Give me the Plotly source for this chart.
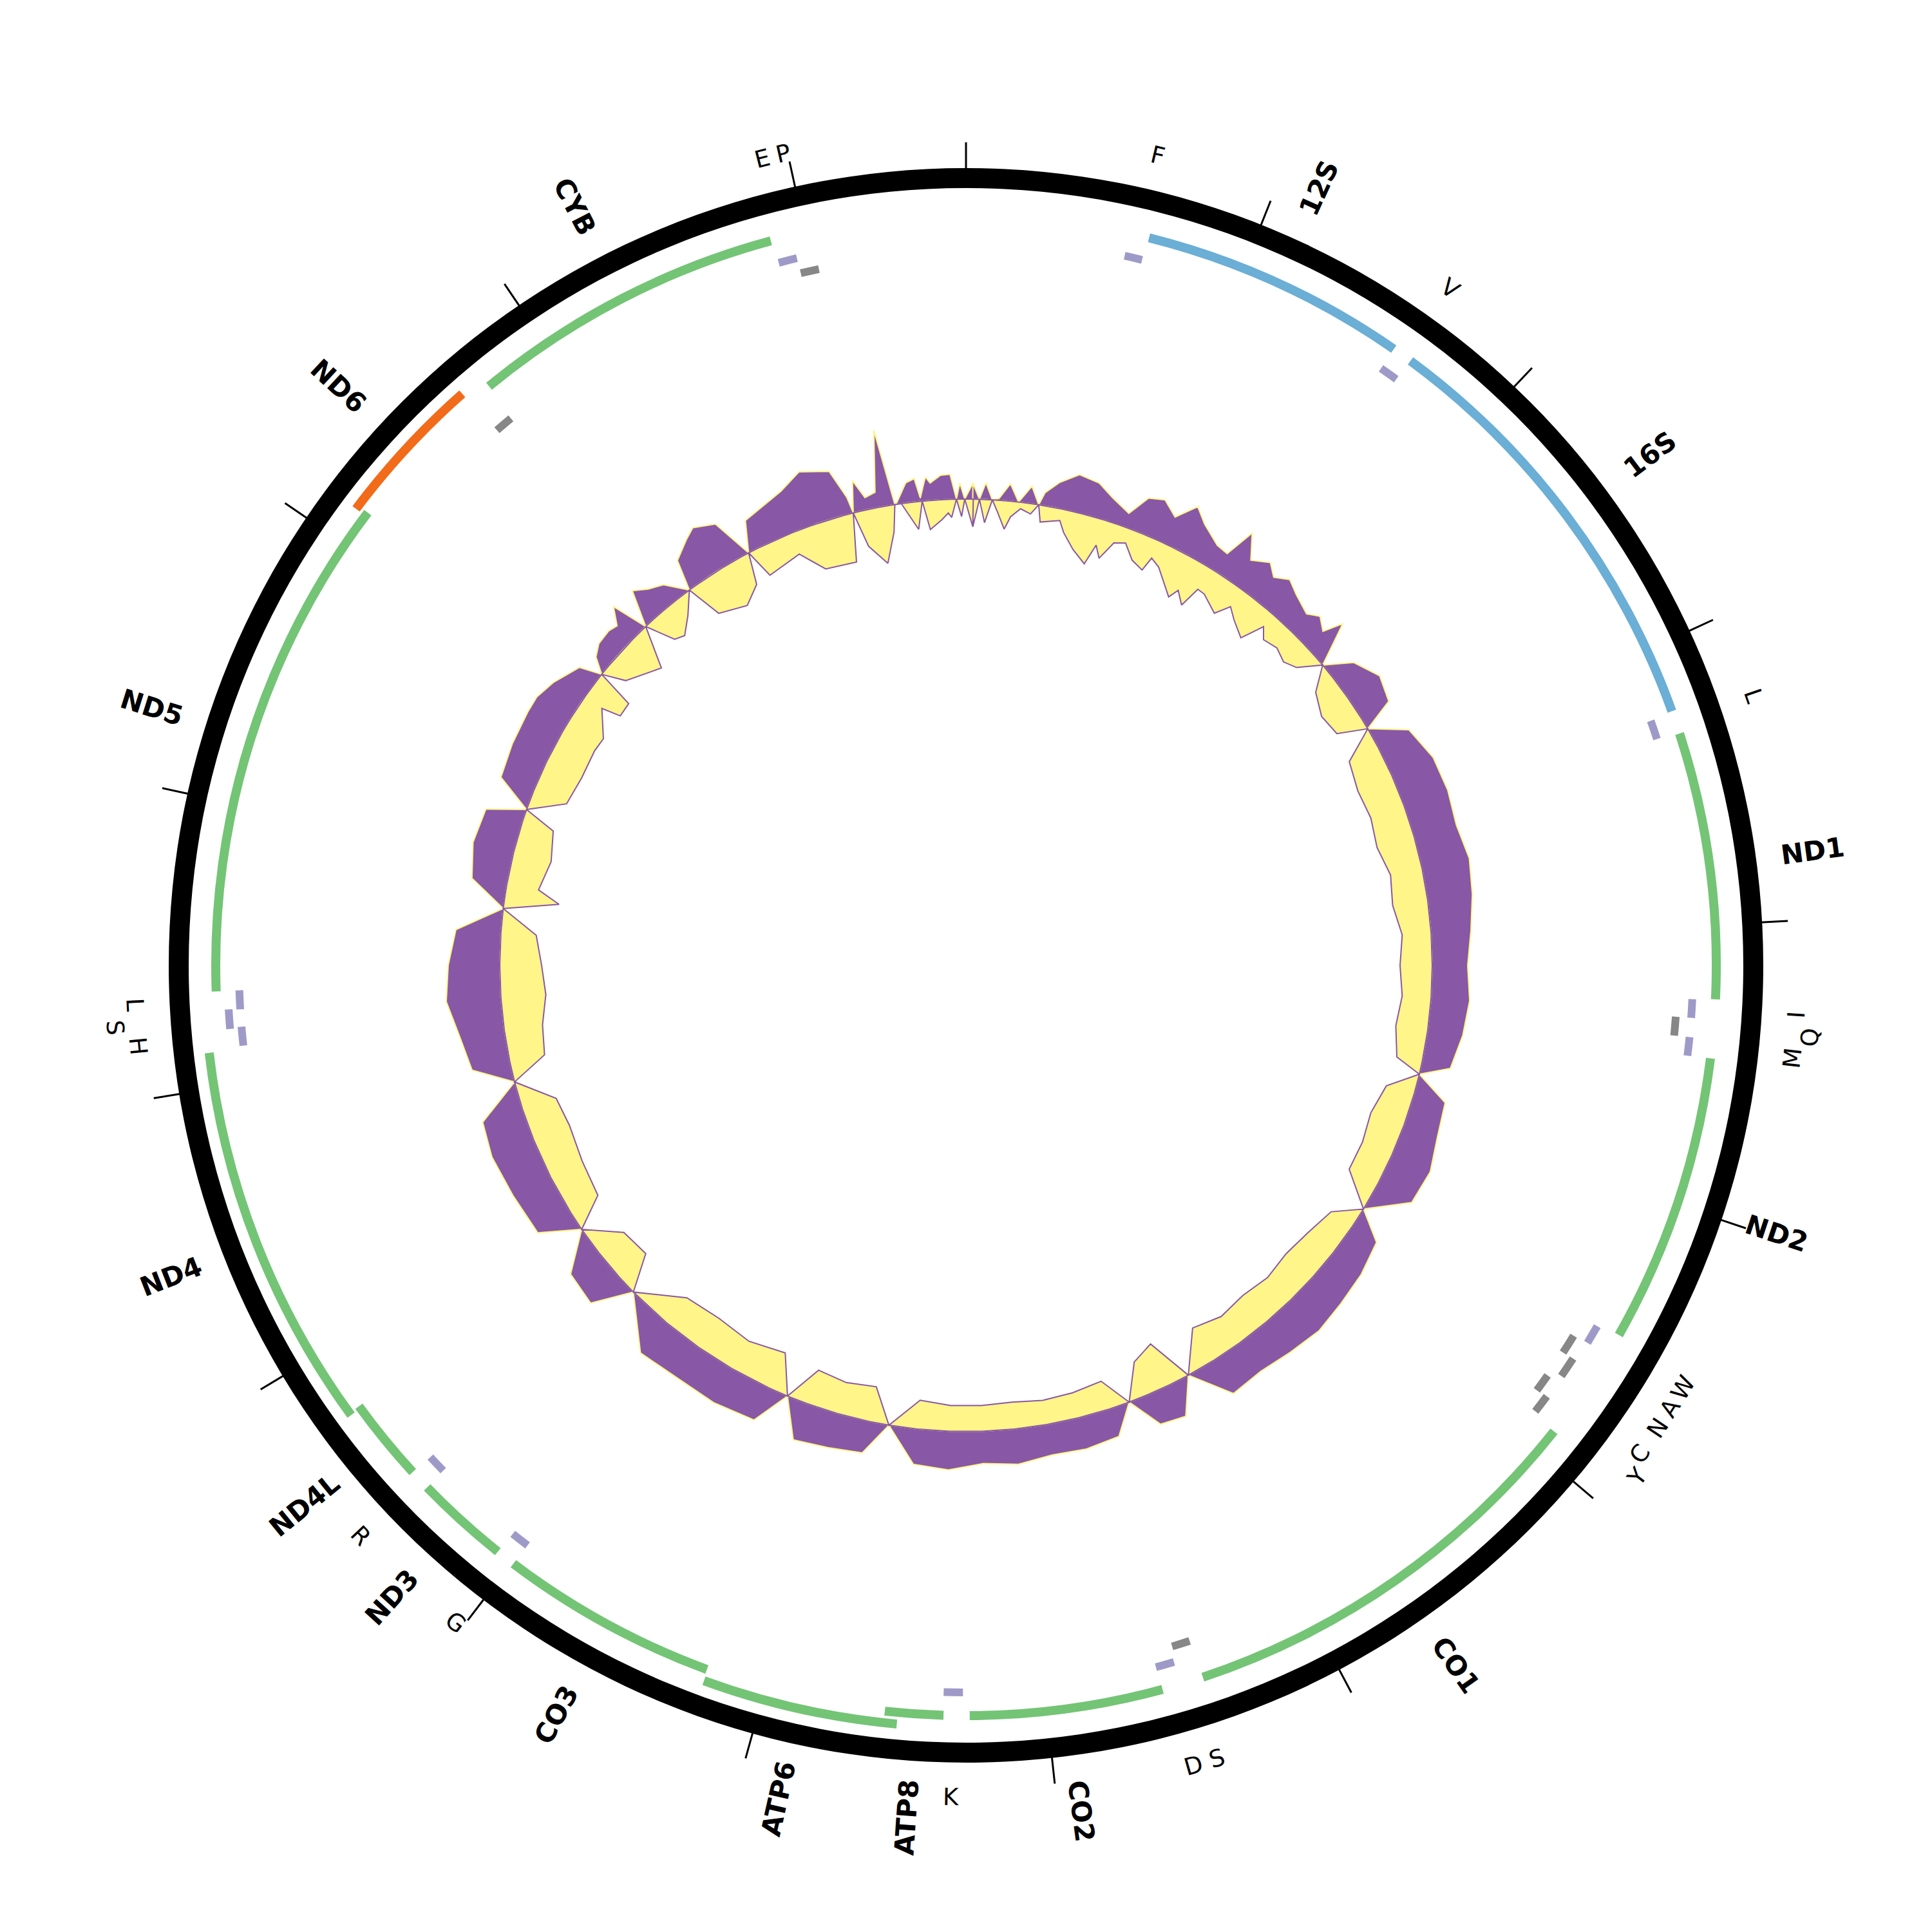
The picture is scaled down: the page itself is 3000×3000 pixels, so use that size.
import math
import plotly.graph_objects as go

# ---------------- data ----------------
GENOME_LEN = 16570
tick_positions = list(range(0, 16001, 1000))

gene_names = ["12S", "16S", "ND1", "ND2", "CO1", "CO2", "ATP8", "ATP6", "CO3",
              "ND3", "ND4L", "ND4", "ND5", "ND6", "CYB"]
gene_start = [650, 1672, 3314, 4470, 5910, 7586, 8364, 8525, 9215,
              10062, 10472, 10762, 12336, 14122, 14753]
gene_end = [1600, 3231, 4262, 5501, 7438, 8272, 8571, 9211, 9993,
            10398, 10771, 12124, 14136, 14665, 15876]
gene_kind = ["rRNA", "rRNA", "CDS", "CDS", "CDS", "CDS", "CDS", "CDS", "CDS",
             "CDS", "CDS", "CDS", "CDS", "CDS-", "CDS"]

trna_names = ["F", "V", "L", "I", "Q", "M", "W", "A", "N", "C", "Y", "S", "D",
              "K", "G", "R", "H", "S", "L", "", "E", "P"]
trna_start = [580, 1602, 3238, 4265, 4333, 4403, 5512, 5586, 5658, 5762, 5826,
              7442, 7520, 8296, 9992, 10401, 12136, 12200, 12268, 14672, 15883, 15952]
trna_end = [645, 1670, 3308, 4333, 4403, 4471, 5582, 5660, 5735, 5830, 5895,
            7510, 7588, 8366, 10060, 10469, 12205, 12270, 12337, 14740, 15951, 16021]
trna_strand = ["+", "+", "+", "+", "-", "+", "+", "-", "-", "-", "-",
               "-", "+", "+", "+", "+", "+", "+", "+", "-", "+", "-"]

# sliding-window composition track: outer (purple) heights and inner (yellow) depths
outer_pos = [38, 76, 109, 149, 187, 243, 298, 361, 413, 437, 506, 600, 711, 801,
             912, 983, 1066, 1151, 1234, 1307, 1422, 1491, 1542, 1616, 1706, 1768,
             1841, 1919, 2030, 2090, 2159, 2200, 2297,
             2394, 2532, 2670, 2739, 2854, 3038, 3222, 3406, 3590, 3774, 3959, 4143,
             4327, 4511, 4695, 4764, 4879, 5063, 5247, 5432, 5593, 5708, 5892, 6076,
             6260, 6444, 6628, 6812, 6974, 7089, 7227, 7342, 7457, 7641, 7825, 8009,
             8193, 8377, 8562, 8723, 8838, 9022, 9206, 9321, 9436, 9666, 9896, 10127,
             10380, 10495, 10679, 10840, 10955, 11185, 11415, 11600, 11761, 11876,
             12060, 12244, 12428, 12612, 12750, 12888, 13073, 13257, 13326, 13441,
             13625, 13809,
             13901, 14011, 14159, 14205, 14260, 14325, 14412, 14463, 14522, 14573,
             14651, 14720, 14799, 14895, 14937, 15038, 15098, 15208, 15291, 15356,
             15586, 15710, 15857, 15912, 15926, 15963, 16009, 16069, 16120, 16166,
             16173, 16242, 16290, 16313, 16351, 16374, 16433, 16484, 16516, 16536,
             16563]
outer_val = [25, 0, 26, 0, 3, 27, 0, 27, 0, 20, 40, 58, 53, 37,
             22, 55, 62, 44, 74, 55, 36, 33, 81, 45, 60, 45,
             58, 47, 36, 48, 35, 66, 0,
             40, 60, 50, 0, 55, 70, 72, 68, 75, 70, 62, 55,
             60, 55, 45, 0, 50, 55, 65, 60, 0, 45, 55, 60,
             65, 60, 55, 60, 0, 55, 50, 0, 45, 50, 48, 55,
             50, 60, 55, 0, 50, 55, 60, 0, 55, 60, 58, 62,
             0, 60, 55, 0, 60, 65, 70, 65, 0, 60,
             70, 85, 80, 70, 0, 55, 65, 60, 0, 55,
             60, 62,
             62, 53, 34, 0, 24, 34, 36, 32, 57, 0,
             55, 41, 31, 0, 48, 67, 77, 64, 0, 47,
             66, 85, 72, 26, 0, 49, 19, 24, 119, 0,
             0, 31, 36, 5, 37, 27, 38, 39, 0, 25,
             0]

inner_pos = [41, 76, 110, 149, 184, 230, 261, 314, 374, 413, 437, 548, 585, 663,
             755, 792, 833, 888, 953, 1026, 1105, 1128, 1188, 1326, 1358, 1422, 1457,
             1505, 1620, 1676, 1740, 1841, 1901, 1952, 2044, 2131, 2209, 2297,
             2394, 2532, 2670, 2739, 2854, 3038, 3222, 3406, 3590, 3774, 3959, 4143,
             4327, 4511, 4695, 4764, 4879, 5063, 5247, 5432, 5593, 5708, 5892, 6076,
             6260, 6444, 6628, 6812, 6974, 7089, 7227, 7342, 7457, 7641, 7825, 8009,
             8193, 8377, 8562, 8723, 8838, 9022, 9206, 9321, 9436, 9666, 9896, 10127,
             10380, 10495, 10679, 10840, 10955, 11185, 11415, 11600, 11761, 11876,
             12060, 12244, 12428, 12612, 12750, 12820, 12888, 13073, 13257, 13326,
             13441, 13625, 13809,
             13901, 14048, 14076, 14168, 14205, 14265, 14467, 14573, 14647, 14707,
             14799, 14895, 14955, 15130, 15245, 15291, 15342, 15554, 15673, 15871,
             15926, 15968, 16064, 16136, 16166, 16203, 16285, 16322, 16355, 16428,
             16467, 16486, 16516, 16544, 16563]
inner_val = [43, 0, 36, 0, 19, 44, 24, 10, 16, 0, 26, 18, 35, 57,
             74, 41, 59, 29, 23, 44, 52, 29, 37, 71, 55, 72, 38,
             39, 55, 32, 45, 60, 24, 39, 34, 42, 33, 0,
             35, 50, 45, 0, 50, 58, 55, 60, 50, 55, 45, 50,
             45, 50, 40, 0, 45, 55, 50, 50, 0, 40, 50, 55,
             50, 55, 50, 60, 0, 70, 55, 0, 45, 40, 38, 42,
             40, 40, 45, 0, 55, 50, 55, 0, 60, 50, 55, 50,
             0, 55, 50, 0, 50, 55, 60, 55, 0, 55,
             60, 70, 65, 55, 0, 85, 50, 60, 50, 0,
             55, 60, 58,
             60, 32, 62, 61, 0, 35, 63, 0, 45, 51,
             30, 0, 56, 70, 49, 0, 46, 35, 71, 75,
             0, 56, 88, 42, 0, 0, 43, 0, 45, 31,
             21, 28, 0, 27, 0]

# ---------------- style ----------------
FIG = 2984                           # page has an 8px body margin
CX, CY_BOTTOM = 1492, 1493           # polar centre in figure pixels (y from bottom)
RMAX = 1480
RING_IN, RING_OUT = 1207, 1238
TICK_OUT = 1278
GENE_R0, GENE_W = 1165, 14
TRNA_PLUS_R0, TRNA_MINUS_R0, TRNA_W = 1129, 1105, 12
LEVEL_STEP = 18
GC_BASE = 724
GENE_LABEL_R = 1326
TRNA_LABEL_R = 1292
trna_label_shift = [0, 0, 0, 0, 23, 0, 0, 0, 0, 0, 19, 0, 0, 0, 0, 0, 0, 33, 0, 0, 0, 0]
FONT = "DejaVu Sans"

COL = {"rRNA": "#6baed6", "CDS": "#74c476", "CDS-": "#f26b1a",
       "+": "#9e9ac8", "-": "#878787"}
PURPLE, YELLOW = "#8857a6", "#fff588"


def deg(bp):
    return bp * 360.0 / GENOME_LEN


def assign_levels(starts, ends, groups):
    levels = []
    placed = []  # (group, level, end)
    for s, e, g in zip(starts, ends, groups):
        lvl = 0
        while any(pg == g and pl == lvl and pe > s for pg, pl, pe in placed):
            lvl += 1
        placed.append((g, lvl, e))
        levels.append(lvl)
    return levels


fig = go.Figure()

# outer black ring
fig.add_trace(go.Barpolar(r=[RING_OUT - RING_IN], base=[RING_IN], theta=[180], width=[360],
                          marker=dict(color="black", line=dict(width=0)), hoverinfo="skip"))

# ticks
tr, tt = [], []
for p in tick_positions:
    tr += [RING_OUT - 2, TICK_OUT, None]
    tt += [deg(p), deg(p), None]
fig.add_trace(go.Scatterpolar(r=tr, theta=tt, mode="lines",
                              line=dict(color="black", width=3), hoverinfo="skip"))

# genes
glev = assign_levels(gene_start, gene_end, ["g"] * len(gene_names))
for name, s, e, k, lv in zip(gene_names, gene_start, gene_end, gene_kind, glev):
    rc = GENE_R0 + lv * LEVEL_STEP
    fig.add_trace(go.Barpolar(r=[GENE_W], base=[rc - GENE_W / 2], theta=[deg((s + e) / 2)],
                              width=[deg(e - s)], marker=dict(color=COL[k], line=dict(width=0)),
                              name=name, hoverinfo="name"))

# tRNAs
tlev = assign_levels(trna_start, trna_end, trna_strand)
for name, s, e, st, lv in zip(trna_names, trna_start, trna_end, trna_strand, tlev):
    r0 = (TRNA_PLUS_R0 if st == "+" else TRNA_MINUS_R0) + lv * LEVEL_STEP
    fig.add_trace(go.Barpolar(r=[TRNA_W], base=[r0 - TRNA_W / 2], theta=[deg((s + e) / 2)],
                              width=[deg(e - s)], marker=dict(color=COL[st], line=dict(width=0)),
                              name=name or "tRNA", hoverinfo="name"))


# composition track
def band(pos, val, sign, fill, edge):
    order = sorted(range(len(pos)), key=lambda i: pos[i])
    th = [deg(pos[i]) for i in order]
    vv = [val[i] for i in order]
    th_c = th + [th[0] + 360]
    vv_c = vv + [vv[0]]
    base_th = list(reversed(th_c))
    fig.add_trace(go.Scatterpolar(
        r=[GC_BASE + sign * v for v in vv_c] + [GC_BASE] * len(base_th),
        theta=th_c + base_th, mode="lines", fill="toself", fillcolor=fill,
        line=dict(color=edge, width=2), hoverinfo="skip"))


band(outer_pos, outer_val, 1, PURPLE, YELLOW)
band(inner_pos, inner_val, -1, YELLOW, PURPLE)


def paper_xy(theta_deg, r):
    a = math.radians(theta_deg)
    return (CX + r * math.sin(a)) / FIG, (CY_BOTTOM + r * math.cos(a)) / FIG


ann = []
for name, s, e in zip(gene_names, gene_start, gene_end):
    t = deg((s + e) / 2) % 360
    x, y = paper_xy(t, GENE_LABEL_R)
    ang = t - 90 if t < 180 else t - 270
    ann.append(dict(x=x, y=y, xref="paper", yref="paper", text=name, showarrow=False,
                    textangle=ang, xanchor="center", yanchor="middle",
                    font=dict(family=FONT, size=42, color="black", weight="bold")))
for name, s, e, sh in zip(trna_names, trna_start, trna_end, trna_label_shift):
    if not name:
        continue
    t = deg((s + e) / 2) % 360
    x, y = paper_xy(t, TRNA_LABEL_R + sh)
    if t <= 90:
        ang = t
    elif t <= 270:
        ang = t - 180
    else:
        ang = t - 360
    ann.append(dict(x=x, y=y, xref="paper", yref="paper", text=name, showarrow=False,
                    textangle=ang, xanchor="center", yanchor="middle",
                    font=dict(family=FONT, size=37, color="black")))

fig.update_layout(
    width=FIG, height=FIG, margin=dict(l=0, r=0, t=0, b=0),
    paper_bgcolor="white", plot_bgcolor="white", showlegend=False,
    annotations=ann,
    polar=dict(
        domain=dict(x=[(CX - RMAX) / FIG, (CX + RMAX) / FIG],
                    y=[(CY_BOTTOM - RMAX) / FIG, (CY_BOTTOM + RMAX) / FIG]),
        bgcolor="white",
        radialaxis=dict(range=[0, RMAX], visible=False),
        angularaxis=dict(visible=False, rotation=90, direction="clockwise"),
    ),
)
fig.write_html("out.html")
